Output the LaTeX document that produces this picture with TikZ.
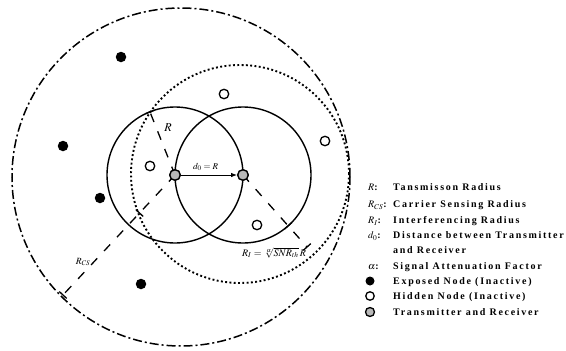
\documentclass[tikz,border=0pt]{standalone}
\usepackage{mathptmx}
\usepackage{fontspec}
\setmainfont{Liberation Serif}
\newfontfamily\legendfont[LetterSpace=17]{Liberation Serif}
\usetikzlibrary{arrows.meta, calc, positioning}

\tikzset{
  exposed/.style={circle, fill=black, inner sep=0pt, minimum size=10.5pt},
  hidden/.style={circle, draw=black, line width=1.3pt, fill=white, inner sep=0pt, minimum size=9.5pt},
  trx/.style={circle, draw=black, line width=1.3pt, fill=gray!55, inner sep=0pt, minimum size=10.5pt},
  txrange/.style={line width=1.4pt},
  radline/.style={line width=1.3pt, dash pattern=on 9pt off 10pt},
  legtxt/.style={anchor=base west, inner sep=0pt, font=\legendfont\bfseries\fontsize{10}{12}\selectfont},
  maths/.style={inner sep=0pt, font=\fontsize{10}{12}\selectfont}
}
% small bar across a radius line, at #1, square to the line towards #2
\newcommand{\radtick}[2]{\draw[line width=1.3pt] ($(#1)!5pt!90:(#2)$) -- ($(#1)!5pt!-90:(#2)$);}

\begin{document}
\begin{tikzpicture}[x=1pt, y=-1pt]
    \useasboundingbox (0,0) rectangle (566,351);

    % transmitter and receiver
    \node[trx] (tx) at (175,175) {};
    \node[trx] (rx) at (243,175) {};
    \coordinate (csc) at (181,177);
    \coordinate (ic) at (240,174);

    % ranges
    \draw[line width=1.5pt, dash pattern=on 9pt off 3pt on 2pt off 3pt] (csc) circle[radius=169pt];
    \draw[line width=1.9pt, dash pattern=on 1.9pt off 2.4pt] (ic) circle[radius=109pt];
    \draw[txrange] (tx) circle[radius=68pt];
    \draw[txrange] (rx) circle[radius=68pt];

    % radius lines
    \coordinate (rend) at (150,112);
    \coordinate (csend) at (63,295);
    \coordinate (iend) at (307,247);
    \coordinate (csmid) at ($(tx)!52pt!(csend)$);
    \coordinate (imid) at ($(rx)!68pt!(iend)$);
    \draw[radline] (tx.center) -- (rend);
    \draw[radline] (tx.center) -- (csend);
    \draw[radline] (rx.center) -- (iend);
    \radtick{rend}{tx}
    \radtick{csend}{tx}
    \radtick{csmid}{tx}
    \radtick{iend}{rx}
    \radtick{imid}{rx}

    % nodes on top
    \node[trx] at (tx) {};
    \node[trx] at (rx) {};
    \draw[-{Latex[length=6pt,width=4.5pt]}, line width=1pt] (tx) -- (rx);

    \node[maths, font=\fontsize{12}{14}\selectfont] (lblR) at (168,128) {$R$};
    \node[maths, above=4pt of $(tx)!0.45!(rx)$, font=\fontsize{9}{11}\selectfont] (lbld) {$d_0 = R$};
    \node[maths, font=\fontsize{9.5}{11}\selectfont] (lblcs) at (83,262) {$R_{CS}$};
    \node[maths] (lbli) at (274,253) {$R_I = \sqrt[\alpha]{SNR_{th}}\, R$};

    % exposed nodes
    \node[exposed] (e1) at (121,57) {};
    \node[exposed] (e2) at (63,146) {};
    \node[exposed] (e3) at (100,198) {};
    \node[exposed] (e4) at (141,284) {};
    % hidden nodes
    \node[hidden] (h1) at (224,94) {};
    \node[hidden] (h2) at (150,166) {};
    \node[hidden] (h3) at (325,141) {};
    \node[hidden] (h4) at (257,225) {};

    % legend
    \node[legtxt] (k1) at (368,190.5) {$R$:};
    \node[legtxt] (t1) at (393,190.5) {Tansmisson Radius};
    \node[legtxt] (k2) at (368,207.5) {$R_{CS}$:};
    \node[legtxt] (t2) at (393,207.5) {Carrier Sensing Radius};
    \node[legtxt] (k3) at (368,223.5) {$R_I$:};
    \node[legtxt] (t3) at (393,223.5) {Interferencing Radius};
    \node[legtxt] (k4) at (368,238.5) {$d_0$:};
    \node[legtxt] (t4) at (393,238.5) {Distance between Transmitter};
    \node[legtxt] (t5) at (393,253.5) {and Receiver};
    \node[legtxt] (k6) at (368,269.5) {$\alpha$:};
    \node[legtxt] (t6) at (393,269.5) {Signal Attenuation Factor};
    \node[exposed, minimum size=9pt] (s7) at (370,281) {};
    \node[legtxt] (t7) at (393,284.5) {Exposed Node (Inactive)};
    \node[hidden, minimum size=8.5pt] (s8) at (370,296) {};
    \node[legtxt] (t8) at (393,299.5) {Hidden Node (Inactive)};
    \node[trx, minimum size=9pt] (s9) at (370,312) {};
    \node[legtxt] (t9) at (393,315.5) {Transmitter and Receiver};
\end{tikzpicture}
\end{document}
